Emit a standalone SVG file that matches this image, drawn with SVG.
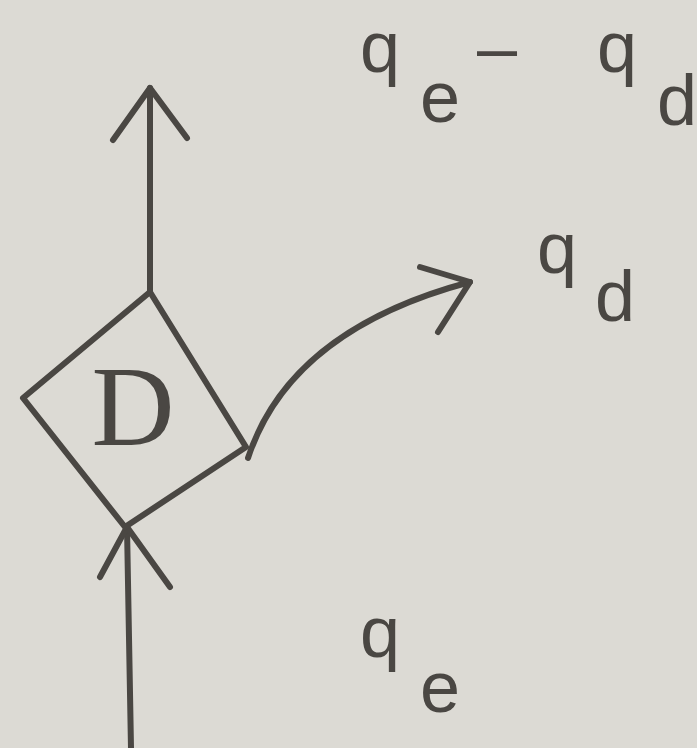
<svg xmlns="http://www.w3.org/2000/svg" width="697" height="748" viewBox="0 0 697 748">
<style>
.ln{fill:none;stroke:#4a4743;stroke-width:6;stroke-linecap:round;stroke-linejoin:round}
.lbl{font-family:"Liberation Sans",Arial,sans-serif;font-size:72px;fill:#4a4743}
.big{font-family:"Liberation Serif","Times New Roman",serif;font-size:115px;fill:#4a4743}
</style>
<rect width="697" height="748" fill="#dcdad4"/>
<g id="connectors">
<line class="ln" x1="150" y1="292" x2="150" y2="88"/>
<polyline class="ln" points="113,140 150,88 187,138"/>
<line class="ln" x1="131" y1="748" x2="127" y2="527"/>
<polyline class="ln" points="100,577 127,527 170,587"/>
<path class="ln" d="M248,458 Q290,330 470,282"/>
<polyline class="ln" points="420,267 470,282 438,332"/>
</g>
<g id="node-D">
<polygon class="ln" points="150,292 246,447 125,527 23,398"/>
<text class="big" x="133" y="445" text-anchor="middle">D</text>
</g>
<g id="label-qe-minus-qd">
<text class="lbl" x="360" y="72">q</text>
<text class="lbl" x="420" y="122">e</text>
<text class="lbl" x="477" y="72">–</text>
<text class="lbl" x="597" y="72">q</text>
<text class="lbl" x="657" y="125">d</text>
</g>
<g id="label-qd">
<text class="lbl" x="537" y="273">q</text>
<text class="lbl" x="595" y="321">d</text>
</g>
<g id="label-qe">
<text class="lbl" x="360" y="657">q</text>
<text class="lbl" x="420" y="712">e</text>
</g>
</svg>
